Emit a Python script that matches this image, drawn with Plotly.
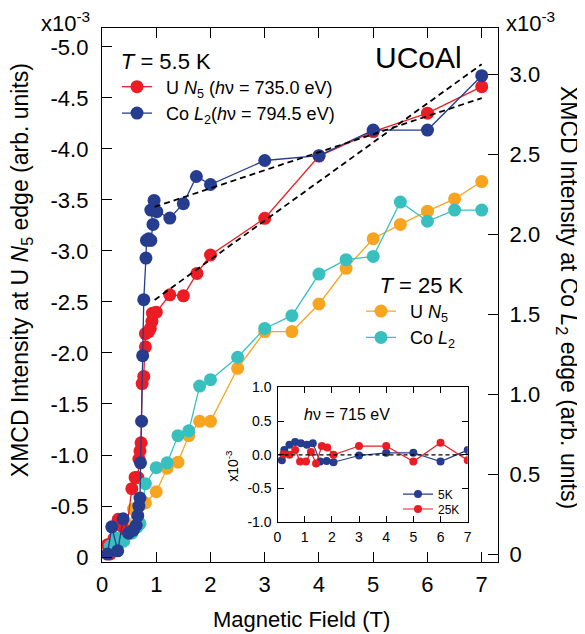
import plotly.graph_objects as go

# ---------------- data ----------------
# 5.5 K, U N5 edge (left axis, x10^-3)
field_U_5K = [0.10, 0.15, 0.22, 0.30, 0.37, 0.45, 0.55, 0.61, 0.66, 0.68, 0.70, 0.72,
              0.74, 0.77, 0.80, 0.80, 0.86, 0.89, 0.92, 0.93, 0.95, 1.00, 1.25, 1.50,
              1.75, 2.00, 3.00, 4.00, 5.00, 6.00, 7.00]
xmcd_U_5K = [-0.12, -0.03, -0.18, -0.37, -0.30, -0.25, -0.67, -0.78, -0.78, -0.96, -1.04, -1.12,
             -1.70, -1.77, -2.06, -2.19, -2.21, -2.24, -2.31, -2.39, -2.39, -2.40, -2.57, -2.56,
             -2.78, -2.96, -3.32, -3.93, -4.17, -4.35, -4.61]

# 5.5 K, Co L2 edge (right axis, x10^-3)
field_Co_5K = [0.10, 0.18, 0.29, 0.39, 0.49, 0.58, 0.63, 0.66, 0.68, 0.70, 0.71, 0.73,
               0.75, 0.77, 0.81, 0.82, 0.86, 0.90, 0.94, 0.90, 0.96, 1.01, 1.25, 1.50,
               1.74, 2.00, 3.00, 4.00, 5.00, 6.00, 7.00]
xmcd_Co_5K = [0.00, 0.17, 0.02, 0.22, 0.13, 0.15, 0.18, 0.24, 0.30, 0.35, 0.57, 0.83,
              1.24, 1.59, 1.85, 1.96, 1.97, 1.96, 2.06, 2.15, 2.21, 2.14, 2.10, 2.19,
              2.36, 2.31, 2.46, 2.49, 2.65, 2.65, 2.99]

# 25 K, U N5 edge (left axis)
field_U_25K = [0.15, 0.20, 0.30, 0.40, 0.50, 0.58, 0.80, 1.00, 1.20, 1.40, 1.60, 1.80,
               2.00, 2.50, 3.00, 3.50, 4.00, 4.50, 5.00, 5.50, 6.00, 6.50, 7.00]
xmcd_U_25K = [-0.10, -0.12, -0.18, -0.21, -0.30, -0.47, -0.53, -0.64, -0.87, -0.93, -1.19, -1.33,
              -1.33, -1.85, -2.21, -2.21, -2.48, -2.83, -3.12, -3.26, -3.39, -3.51, -3.68]

# 25 K, Co L2 edge (right axis)
field_Co_25K = [0.15, 0.25, 0.40, 0.55, 0.65, 0.70, 0.80, 1.00, 1.20, 1.40, 1.60, 1.80,
                2.00, 2.50, 3.00, 3.50, 4.00, 4.50, 5.00, 5.50, 6.00, 6.50, 7.00]
xmcd_Co_25K = [0.05, 0.10, 0.08, 0.13, 0.17, 0.19, 0.44, 0.54, 0.57, 0.74, 0.77, 1.05,
               1.09, 1.23, 1.41, 1.49, 1.75, 1.84, 1.86, 2.20, 2.08, 2.15, 2.15]

# linear high-field fits (dashed)
fit_field = [0.97, 7.0]
fit_U_5K = [-2.52, -4.83]
fit_Co_5K = [2.17, 2.85]

# inset: h nu = 715 eV
inset_field_5K = [0.16, 0.25, 0.44, 0.65, 0.86, 1.08, 1.30, 1.57, 1.81, 2.06, 3.0, 4.0, 5.0, 6.0, 7.0]
inset_xmcd_5K = [-0.08, 0.07, 0.15, 0.19, 0.17, 0.15, 0.17, -0.10, -0.09, -0.11, -0.01, 0.03, 0.03, -0.10, 0.07]
inset_field_25K = [0.22, 0.44, 0.65, 0.83, 1.05, 1.23, 1.42, 1.63, 1.83, 2.06, 3.0, 4.0, 5.0, 6.0, 7.0]
inset_xmcd_25K = [0.01, 0.00, 0.07, -0.10, -0.10, 0.04, -0.13, 0.13, 0.11, 0.00, 0.13, 0.13, -0.10, 0.18, -0.08]

# ticks
x_ticks = [0, 1, 2, 3, 4, 5, 6, 7]
left_ticks = [0, -0.5, -1.0, -1.5, -2.0, -2.5, -3.0, -3.5, -4.0, -4.5, -5.0]
left_labels = ["0", "-0.5", "-1.0", "-1.5", "-2.0", "-2.5", "-3.0", "-3.5", "-4.0", "-4.5", "-5.0"]
right_ticks = [0, 0.5, 1.0, 1.5, 2.0, 2.5, 3.0]
right_labels = ["0", "0.5", "1.0", "1.5", "2.0", "2.5", "3.0"]
inset_y_ticks = [-1.0, -0.5, 0.0, 0.5, 1.0]
inset_y_labels = ["-1.0", "-0.5", "0.0", "0.5", "1.0"]

# ---------------- style ----------------
RED = "#EC1C24"
BLUE = "#253C8F"
ORANGE = "#F7A521"
CYAN = "#38C0C0"
FONT = "Liberation Sans, Arial, Helvetica, sans-serif"
ENSP = "\u2002"

W, H = 585, 634
ML, MR, MT, MB = 94, 95, 16, 80
PW, PH = W - ML - MR, H - MT - MB


def px(xs):
    # screen x (page has an 8 px body margin) -> paper fraction
    return (xs - 8 - ML) / PW


def py(ys):
    return (H - MB - (ys - 8)) / PH


fig = go.Figure()

fig.add_trace(go.Scatter(x=field_U_25K, y=xmcd_U_25K, mode="lines+markers",
                         name=ENSP + "U <i>N</i><sub>5</sub>",
                         line=dict(color=ORANGE, width=1.3), marker=dict(size=13, color=ORANGE),
                         xaxis="x", yaxis="y", legend="legend2", legendrank=1))
fig.add_trace(go.Scatter(x=field_U_5K, y=xmcd_U_5K, mode="lines+markers",
                         name=ENSP + "U <i>N</i><sub>5</sub> (<i>h</i>ν = 735.0 eV)",
                         line=dict(color=RED, width=1.3), marker=dict(size=13, color=RED),
                         xaxis="x", yaxis="y", legend="legend", legendrank=1))
fig.add_trace(go.Scatter(x=fit_field, y=fit_U_5K, mode="lines", showlegend=False,
                         line=dict(color="black", width=1.8, dash="6px,4px"),
                         xaxis="x", yaxis="y"))
fig.add_trace(go.Scatter(x=field_Co_25K, y=xmcd_Co_25K, mode="lines+markers",
                         name=ENSP + "Co <i>L</i><sub>2</sub>",
                         line=dict(color=CYAN, width=1.3), marker=dict(size=13, color=CYAN),
                         xaxis="x", yaxis="y2", legend="legend2", legendrank=2))
fig.add_trace(go.Scatter(x=field_Co_5K, y=xmcd_Co_5K, mode="lines+markers",
                         name=ENSP + "Co <i>L</i><sub>2</sub>(<i>h</i>ν = 794.5 eV)",
                         line=dict(color=BLUE, width=1.3), marker=dict(size=13, color=BLUE),
                         xaxis="x", yaxis="y2", legend="legend", legendrank=2))
fig.add_trace(go.Scatter(x=fit_field, y=fit_Co_5K, mode="lines", showlegend=False,
                         line=dict(color="black", width=1.8, dash="6px,4px"),
                         xaxis="x", yaxis="y2"))

# inset
fig.add_trace(go.Scatter(x=inset_field_5K, y=inset_xmcd_5K, mode="lines+markers", name="5K",
                         line=dict(color=BLUE, width=1.2), marker=dict(size=8, color=BLUE),
                         xaxis="x2", yaxis="y3", legend="legend3"))
fig.add_trace(go.Scatter(x=inset_field_25K, y=inset_xmcd_25K, mode="lines+markers", name="25K",
                         line=dict(color=RED, width=1.2), marker=dict(size=8, color=RED),
                         xaxis="x2", yaxis="y3", legend="legend4"))

axis_common = dict(showline=True, linecolor="black", linewidth=1.3, ticks="inside",
                   tickcolor="black", tickwidth=1.2, showgrid=False, zeroline=False)

small_legend = dict(xanchor="left", yanchor="top", font=dict(size=12),
                    bgcolor="rgba(0,0,0,0)", tracegroupgap=0)

fig.update_layout(
    width=W, height=H, autosize=False,
    margin=dict(l=ML, r=MR, t=MT, b=MB),
    paper_bgcolor="white", plot_bgcolor="rgba(0,0,0,0)",
    font=dict(family=FONT, color="black"),
    xaxis=dict(range=[0, 7.3], tickvals=x_ticks, ticklen=10, mirror="ticks",
               tickfont=dict(size=22), ticklabelstandoff=2, **axis_common),
    yaxis=dict(range=[0.0486, -5.185], tickvals=left_ticks, ticktext=left_labels, ticklen=10,
               tickfont=dict(size=22), ticklabelstandoff=8, **axis_common),
    yaxis2=dict(range=[-0.0496, 3.288], overlaying="y", side="right", anchor="x",
                tickvals=right_ticks, ticktext=right_labels, ticklen=10,
                tickfont=dict(size=22), ticklabelstandoff=6, **axis_common),
    xaxis2=dict(domain=[px(277.5), px(467.7)], anchor="y3", range=[0, 7.0],
                tickvals=x_ticks, ticklen=6, mirror="ticks", tickfont=dict(size=14),
                ticklabelstandoff=2, **axis_common),
    yaxis3=dict(domain=[py(522), py(386)], anchor="x2", range=[-1.0, 1.0],
                tickvals=inset_y_ticks, ticktext=inset_y_labels, ticklen=6, mirror="ticks",
                tickfont=dict(size=14), ticklabelstandoff=2, **axis_common),
    legend=dict(x=px(117), y=py(36), xanchor="left", yanchor="top",
                title=dict(text="\u200a<i>T</i> = 5.5 K", font=dict(size=22)),
                font=dict(size=18), bgcolor="rgba(0,0,0,0)", tracegroupgap=0),
    legend2=dict(x=px(361), y=py(262), xanchor="left", yanchor="top",
                 title=dict(text="\u2002\u2005<i>T</i> = 25 K", font=dict(size=22)),
                 font=dict(size=18), bgcolor="rgba(0,0,0,0)", tracegroupgap=0),
    legend3=dict(x=px(398), y=py(479), **small_legend),
    legend4=dict(x=px(398), y=py(494), **small_legend),
    showlegend=True,
)

fig.add_shape(type="line", xref="x2", yref="y3", x0=0, x1=7.0, y0=0, y1=0,
              line=dict(color="black", width=1.2, dash="4px,3px"))

annotations = [
    dict(text="UCoAl", x=px(418), y=py(54), font=dict(size=30)),
    dict(text="x10<sup>-3</sup>", x=px(65), y=py(18), font=dict(size=22)),
    dict(text="x10<sup>-3</sup>", x=px(530), y=py(18), font=dict(size=22)),
    dict(text="Magnetic Field (T)", x=px(301), y=py(620), font=dict(size=22)),
    dict(text="XMCD Intensity at U <i>N</i><sub>5</sub> edge (arb. units)", x=px(21), y=py(268),
         textangle=-90, font=dict(size=23)),
    dict(text="XMCD Intensity at Co <i>L</i><sub>2</sub> edge (arb. units)", x=px(567), y=py(295),
         textangle=90, font=dict(size=23)),
    dict(text="<i>h</i>ν = 715 eV", x=px(347), y=py(413), font=dict(size=16)),
    dict(text="x10<sup>-3</sup>", x=px(232), y=py(465), textangle=-90, font=dict(size=14)),
]
for a in annotations:
    fig.add_annotation(xref="paper", yref="paper", showarrow=False,
                       xanchor="center", yanchor="middle", **a)

fig.write_html("out.html")
